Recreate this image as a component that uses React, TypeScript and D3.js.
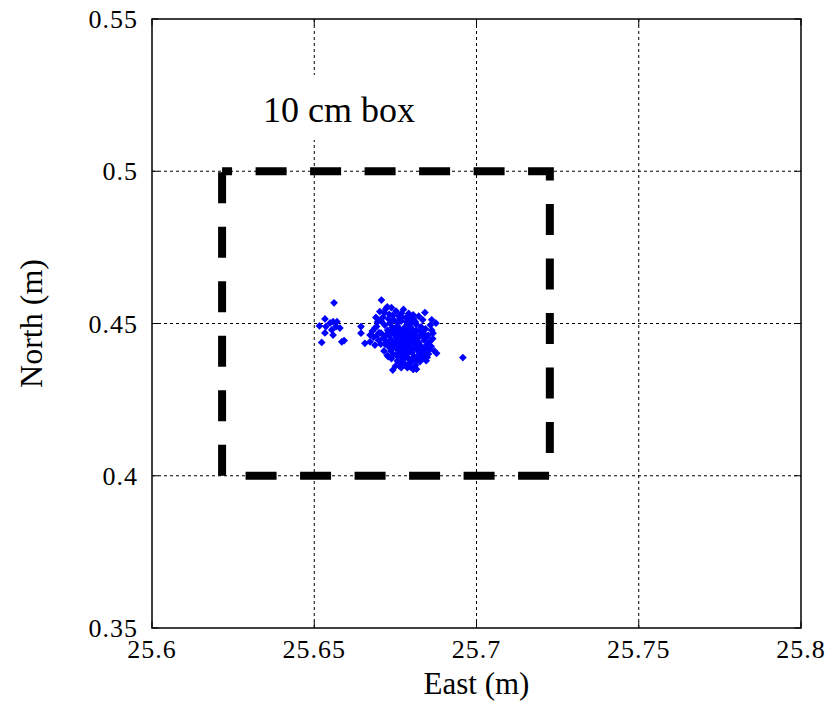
import React from "react";
import * as d3 from "d3";

const xTicks = [25.6, 25.65, 25.7, 25.75, 25.8];
const yTicks = [0.35, 0.4, 0.45, 0.5, 0.55];
const xTickLabels = ["25.6", "25.65", "25.7", "25.75", "25.8"];
const yTickLabels = ["0.35", "0.4", "0.45", "0.5", "0.55"];
const boxEast = [25.6216, 25.7226];
const boxNorth = [0.4, 0.5];
const boxLabel = "10 cm box";
const xLabel = "East (m)";
const yLabel = "North (m)";

const points: [number, number][] = [
  // western sub-group
  [25.6561, 0.4568], [25.6533, 0.4515], [25.6516, 0.4492], [25.6536, 0.449],
  [25.6558, 0.4506], [25.657, 0.4506], [25.6567, 0.449], [25.6579, 0.4485],
  [25.6533, 0.4469], [25.6558, 0.4462], [25.6585, 0.444], [25.6592, 0.4444],
  [25.6523, 0.4438], [25.6549, 0.4502], [25.6554, 0.4479], [25.6644, 0.449],
  [25.6644, 0.4468], [25.6656, 0.4435], [25.6672, 0.444],
  // main cluster outline
  [25.6707, 0.4577], [25.6725, 0.4555], [25.6702, 0.4539], [25.6769, 0.4534],
  [25.6805, 0.4528], [25.6841, 0.4536], [25.6834, 0.4512], [25.6875, 0.4501],
  [25.6866, 0.4468], [25.6856, 0.444], [25.6877, 0.4402], [25.6841, 0.4391],
  [25.6815, 0.435], [25.679, 0.4364], [25.6764, 0.436], [25.6742, 0.4347],
  [25.6728, 0.4391], [25.6687, 0.4429], [25.6672, 0.4462], [25.6692, 0.449],
  [25.6697, 0.4512], [25.6958, 0.4388],
  // main cluster core
  [25.6712, 0.4521], [25.672, 0.4548], [25.6731, 0.453], [25.6738, 0.4552],
  [25.6745, 0.4512], [25.6752, 0.4541], [25.676, 0.4525], [25.6768, 0.4508],
  [25.6775, 0.4546], [25.6783, 0.4519], [25.6791, 0.4533], [25.6798, 0.4502],
  [25.6806, 0.4515], [25.6814, 0.4497], [25.6822, 0.4524], [25.6829, 0.4489],
  [25.6717, 0.4495], [25.6726, 0.4478], [25.6733, 0.4501], [25.6741, 0.4487],
  [25.6749, 0.447], [25.6756, 0.4493], [25.6764, 0.4481], [25.6771, 0.4466],
  [25.6779, 0.4488], [25.6787, 0.4472], [25.6794, 0.4459], [25.6802, 0.448],
  [25.681, 0.4465], [25.6818, 0.4451], [25.6826, 0.4474], [25.6835, 0.4458],
  [25.6843, 0.4482], [25.6851, 0.4461], [25.6706, 0.4468], [25.6713, 0.4452],
  [25.6722, 0.4441], [25.673, 0.446], [25.6737, 0.4447], [25.6744, 0.4433],
  [25.6753, 0.4455], [25.6761, 0.444], [25.6769, 0.4426], [25.6776, 0.4449],
  [25.6784, 0.4436], [25.6791, 0.442], [25.6799, 0.4443], [25.6807, 0.4429],
  [25.6815, 0.4414], [25.6823, 0.4437], [25.6831, 0.4423], [25.6839, 0.4445],
  [25.6847, 0.443], [25.6855, 0.4415], [25.6728, 0.4425], [25.6736, 0.441],
  [25.6744, 0.4398], [25.6752, 0.4418], [25.676, 0.4404], [25.6768, 0.439],
  [25.6776, 0.4412], [25.6784, 0.4397], [25.6792, 0.4383], [25.68, 0.4405],
  [25.6808, 0.4392], [25.6816, 0.4378], [25.6824, 0.44], [25.6832, 0.4386],
  [25.684, 0.4404], [25.6848, 0.4389], [25.6756, 0.4377], [25.6765, 0.437],
  [25.6773, 0.4381], [25.6781, 0.4366], [25.6797, 0.4372], [25.6812, 0.4363],
  [25.6826, 0.4375], [25.6765, 0.4458], [25.6772, 0.4443], [25.678, 0.4462],
  [25.6788, 0.445], [25.6795, 0.4437], [25.6803, 0.4455], [25.6811, 0.4442],
  [25.677, 0.4475], [25.6786, 0.4492], [25.68, 0.4468], [25.6757, 0.443],
  [25.6774, 0.4421], [25.6789, 0.4408], [25.6805, 0.4418], [25.6819, 0.4426],
  [25.6748, 0.4462], [25.6733, 0.4438], [25.6836, 0.4469], [25.676, 0.451],
  [25.679, 0.4505], [25.6687, 0.4485], [25.6695, 0.4505], [25.67, 0.447],
  [25.6698, 0.4445], [25.6705, 0.4432], [25.6715, 0.441], [25.6725, 0.4395],
  [25.669, 0.452], [25.6858, 0.4495], [25.6862, 0.4478], [25.6865, 0.445],
  [25.686, 0.4425], [25.687, 0.441], [25.6852, 0.44], [25.6845, 0.4378],
  [25.675, 0.436], [25.6787, 0.4355], [25.6805, 0.4349],
  // extra density in the core
  [25.6716, 0.4536], [25.6729, 0.4515], [25.6742, 0.4527], [25.6757, 0.4505],
  [25.6771, 0.4521], [25.6785, 0.4505], [25.6797, 0.4521], [25.6812, 0.4505],
  [25.6721, 0.4462], [25.6735, 0.4472], [25.6746, 0.4481], [25.6758, 0.4468],
  [25.6783, 0.4478], [25.6797, 0.4488], [25.6815, 0.4478], [25.6829, 0.4462],
  [25.6846, 0.4455], [25.6718, 0.4432], [25.6739, 0.4423], [25.6751, 0.4442],
  [25.6764, 0.4415], [25.6781, 0.4427], [25.6796, 0.4415], [25.6813, 0.4437],
  [25.6828, 0.441], [25.6843, 0.4418], [25.6738, 0.4385], [25.6757, 0.4392],
  [25.6772, 0.4398], [25.6788, 0.4388], [25.6803, 0.4381], [25.6819, 0.439],
  [25.6835, 0.4398], [25.6768, 0.4355], [25.6795, 0.4358], [25.6707, 0.4507],
  [25.6683, 0.4455], [25.6694, 0.4462], [25.6679, 0.4475], [25.6862, 0.4512],
];

const W = 831;
const H = 701;
const M = { left: 152, right: 801, top: 19, bottom: 628 };

export default function App() {
  const x = d3.scaleLinear().domain([25.6, 25.8]).range([M.left, M.right]);
  const y = d3.scaleLinear().domain([0.35, 0.55]).range([M.bottom, M.top]);
  const font = "'Liberation Serif', 'Times New Roman', serif";
  const tickLen = 6.5;

  const boxPath = d3.path();
  boxPath.moveTo(x(boxEast[0]), y(boxNorth[1]));
  boxPath.lineTo(x(boxEast[1]), y(boxNorth[1]));
  boxPath.lineTo(x(boxEast[1]), y(boxNorth[0]));
  boxPath.lineTo(x(boxEast[0]), y(boxNorth[0]));
  boxPath.closePath();

  const diamond = d3.symbol().type(d3.symbolSquare).size(30)() as string;

  return (
    <svg
      width={W}
      height={H}
      style={{ position: "absolute", left: 0, top: 0, background: "#fff" }}
    >
      <rect x={0} y={0} width={W} height={H} fill="#fff" />
      {/* grid */}
      <g stroke="#000" strokeWidth={1} strokeDasharray="3,3">
        {xTicks.slice(1, -1).map((t) => (
          <line key={"gx" + t} x1={x(t)} x2={x(t)} y1={M.top} y2={M.bottom} />
        ))}
        {yTicks.slice(1, -1).map((t) => (
          <line key={"gy" + t} x1={M.left} x2={M.right} y1={y(t)} y2={y(t)} />
        ))}
      </g>
      {/* 10 cm box */}
      <path
        d={boxPath.toString()}
        fill="none"
        stroke="#000"
        strokeWidth={8}
        strokeDasharray="31,23.5"
        strokeDashoffset={21}
      />
      {/* label */}
      <rect x={255} y={75} width={170} height={65} fill="#fff" />
      <text x={263} y={122} fontFamily={font} fontSize={36} fill="#000">
        {boxLabel}
      </text>
      {/* scatter */}
      <g fill="#0000ff">
        {points.map((p, i) => (
          <path
            key={i}
            d={diamond}
            transform={`translate(${x(p[0])},${y(p[1])}) rotate(45)`}
          />
        ))}
      </g>
      {/* frame */}
      <rect
        x={M.left}
        y={M.top}
        width={M.right - M.left}
        height={M.bottom - M.top}
        fill="none"
        stroke="#000"
        strokeWidth={1.5}
      />
      <g stroke="#000" strokeWidth={1}>
        {xTicks.map((t) => (
          <g key={"tx" + t}>
            <line x1={x(t)} x2={x(t)} y1={M.bottom} y2={M.bottom - tickLen} />
            <line x1={x(t)} x2={x(t)} y1={M.top} y2={M.top + tickLen} />
          </g>
        ))}
        {yTicks.map((t) => (
          <g key={"ty" + t}>
            <line x1={M.left} x2={M.left + tickLen} y1={y(t)} y2={y(t)} />
            <line x1={M.right} x2={M.right - tickLen} y1={y(t)} y2={y(t)} />
          </g>
        ))}
      </g>
      {/* tick labels */}
      <g fontFamily={font} fontSize={26} fill="#000" letterSpacing={1}>
        {xTicks.map((t, i) => (
          <text key={"lx" + t} x={x(t)} y={M.bottom + 30} textAnchor="middle">
            {xTickLabels[i]}
          </text>
        ))}
        {yTicks.map((t, i) => (
          <text key={"ly" + t} x={M.left - 14} y={y(t) + 9} textAnchor="end">
            {yTickLabels[i]}
          </text>
        ))}
      </g>
      {/* axis labels */}
      <text
        x={(M.left + M.right) / 2}
        y={694}
        textAnchor="middle"
        fontFamily={font}
        fontSize={31}
        fill="#000"
      >
        {xLabel}
      </text>
      <text
        transform={`translate(42,${(M.top + M.bottom) / 2}) rotate(-90)`}
        textAnchor="middle"
        fontFamily={font}
        fontSize={32}
        fill="#000"
      >
        {yLabel}
      </text>
    </svg>
  );
}
